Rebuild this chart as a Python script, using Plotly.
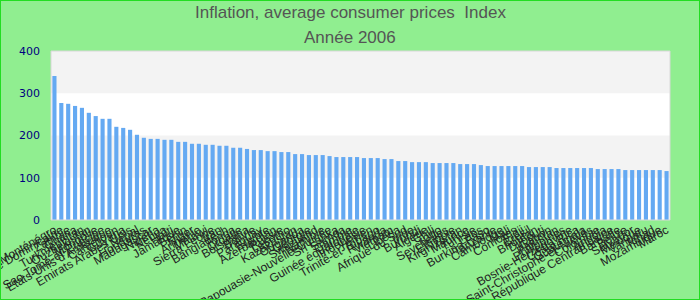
import plotly.graph_objects as go

countries = [
    "Monténégro", "République Dominicaine", "Zambie", "Ghana", "Turkménistan",
    "Ouzbékistan", "Mongolie", "Sao Tomé-et-Principe", "Etats-Unis d'Amérique", "Cameroun",
    "Guyana", "Emirats Arabes Unis", "Népal", "Honduras", "Madagascar",
    "Nigeria", "Kenya", "Haïti", "Jamaïque", "Bénin",
    "Niger", "Arménie", "Malawi", "Sierra Leone", "Iran",
    "Bangladesh", "Tonga", "Croatie", "Botswana", "Bolivie",
    "Paraguay", "Egypte", "Azerbaïdjan", "Russie", "Lesotho",
    "Kazakhstan", "Ouganda", "Géorgie", "Swaziland", "Namibie",
    "Papouasie-Nouvelle-Guinée", "Sri Lanka", "Samoa", "Gambie", "Guinée équatoriale",
    "Indonésie", "Yémen", "Trinité-et-Tobago", "Rwanda", "Vietnam",
    "Libéria", "Afrique du Sud", "Inde", "Burundi", "Algérie",
    "Chili", "Togo", "Seychelles", "Ethiopie", "Kirghizistan",
    "Maurice", "Tunisie", "Laos", "Burkina Faso", "Tanzanie",
    "Cambodge", "Mali", "Comores", "Fidji", "Brésil",
    "Bhoutan", "Djibouti", "Gabon", "Pakistan", "Philippines",
    "Bosnie-Herzégovine", "Costa Rica", "Guatemala", "Saint-Christophe-et-Niévès", "Colombie",
    "Angola", "République Centrafricaine", "Barbade", "Belize", "Salvador",
    "Mexique", "Vanuatu", "Tchad", "Mozambique", "Maroc",
]

values = [
    341, 277, 275, 270, 265.5, 253.7, 246, 239.5, 239.5, 220.6,
    218, 213.5, 201.7, 194.6, 192, 192, 189.8, 189.8, 185, 185,
    180.4, 180.4, 178, 178, 175.7, 175.7, 171, 171, 168.2, 165.5,
    165.5, 163, 163, 160.8, 160.8, 156, 156, 153.7, 153.7, 153.7,
    151.3, 149, 149, 149, 149, 146.6, 146.6, 146.6, 144.2, 144.2,
    139.5, 139.5, 137, 137, 137, 134.8, 134.8, 134.8, 134.8, 132.4,
    132.4, 132.4, 130, 127.7, 127.7, 127.7, 127.7, 127.7, 127.7, 125.3,
    125.3, 125.3, 125.3, 123, 123, 123, 123, 123, 123, 120.6,
    120.6, 120.6, 120.6, 118.2, 118.2, 118.2, 118.2, 118.2, 118.2, 115.8,
]

title_lines = ["Inflation, average consumer prices  Index", "Année 2006"]
y_ticks = [0, 100, 200, 300, 400]
bands = [(100, 200), (300, 400)]

L, R, T, B = 51, 30, 51, 80
W, H = 700, 300
pw, ph = W - L - R, H - T - B

fig = go.Figure(go.Bar(
    x=countries, y=values,
    marker=dict(color="#64a9f2", line=dict(width=0)),
))

shapes = []
for y0, y1 in bands:
    shapes.append(dict(type="rect", xref="paper", yref="y", x0=0, x1=1, y0=y0, y1=y1,
                       fillcolor="#f3f3f3", line=dict(width=0), layer="below"))
shapes.append(dict(type="rect", xref="paper", yref="paper", x0=0, x1=1, y0=0, y1=1,
                   line=dict(color="#d8d8d8", width=1), layer="above"))
shapes.append(dict(type="rect", xref="paper", yref="paper",
                   x0=-L / pw, x1=1 + R / pw, y0=-B / ph, y1=1 + T / ph,
                   line=dict(color="#22dd22", width=2), layer="above"))

title_font = dict(family="Liberation Sans Narrow, Arial Narrow, Liberation Sans, sans-serif",
                  size=17, color="#555555")
annotations = []
for i, line in enumerate(title_lines):
    ypix = 13 + 24 * i
    annotations.append(dict(text=line, xref="paper", yref="paper",
                            x=(W / 2 - L) / pw, y=1 + (T - ypix) / ph,
                            xanchor="center", yanchor="middle", showarrow=False,
                            font=title_font))

fig.update_layout(
    width=W, height=H,
    margin=dict(l=L, r=R, t=T, b=B),
    paper_bgcolor="#90ee90",
    plot_bgcolor="#ffffff",
    bargap=0.4,
    showlegend=False,
    shapes=shapes,
    annotations=annotations,
    xaxis=dict(tickmode="linear", dtick=1, tickangle=-30, showgrid=False, ticks="",
               tickfont=dict(family="Liberation Sans, Arial, sans-serif", size=12, color="#222222"),
               automargin=False, range=[-0.5, len(countries) - 0.5]),
    yaxis=dict(range=[0, 400], tickvals=y_ticks, showgrid=False, zeroline=False, ticks="",
               ticklabelstandoff=10,
               tickfont=dict(family="DejaVu Sans, sans-serif", size=11, color="#000080"),
               automargin=False),
)

fig.write_html("out.html")
